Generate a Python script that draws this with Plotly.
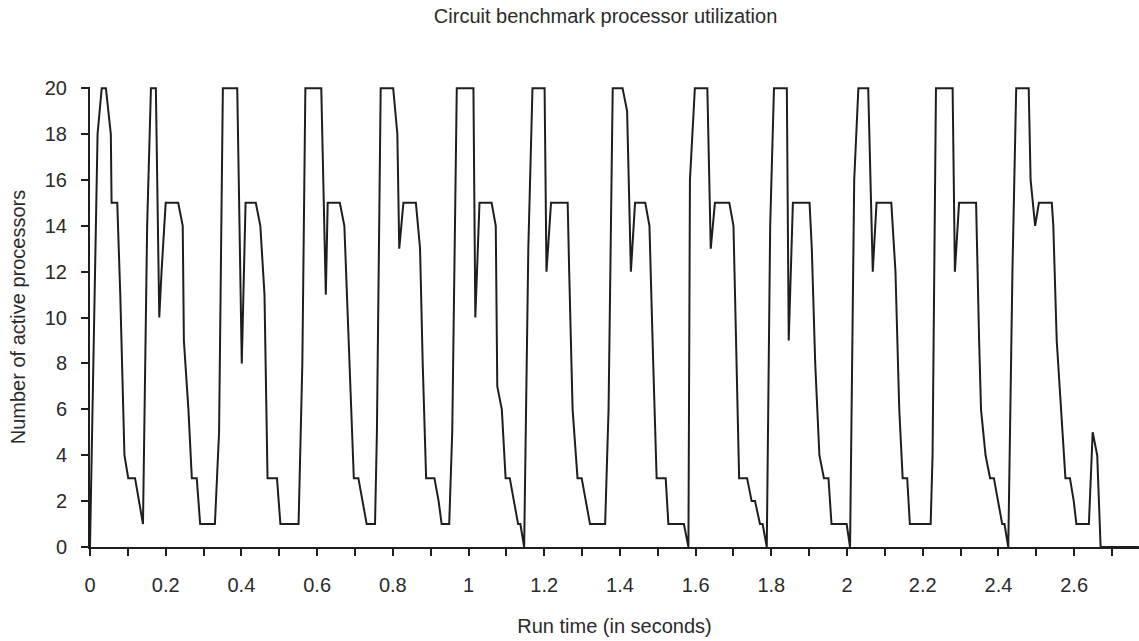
import plotly.graph_objects as go

# Run time (s) and number of active processors
run_time = [0, 0.020, 0.031, 0.042, 0.055, 0.057, 0.072, 0.080, 0.091, 0.101, 0.119, 0.140,
            0.151, 0.161, 0.174, 0.183, 0.189, 0.200, 0.233, 0.245, 0.248, 0.260, 0.269, 0.282,
            0.291, 0.330, 0.341, 0.351, 0.389, 0.401, 0.411, 0.438, 0.450, 0.461, 0.469, 0.494,
            0.503, 0.551, 0.561, 0.569, 0.611, 0.623, 0.628, 0.660, 0.672, 0.683, 0.693, 0.697,
            0.709, 0.720, 0.731, 0.753, 0.758, 0.768, 0.801, 0.812, 0.817, 0.828, 0.861, 0.872,
            0.879, 0.888, 0.910, 0.921, 0.929, 0.949, 0.957, 0.969, 1.013, 1.018, 1.029, 1.061,
            1.072, 1.076, 1.088, 1.098, 1.109, 1.120, 1.131, 1.137, 1.147, 1.158, 1.169, 1.201,
            1.206, 1.218, 1.262, 1.266, 1.275, 1.288, 1.299, 1.321, 1.361, 1.370, 1.381, 1.407,
            1.419, 1.429, 1.440, 1.467, 1.478, 1.488, 1.497, 1.521, 1.528, 1.569, 1.581, 1.585,
            1.598, 1.631, 1.640, 1.651, 1.689, 1.700, 1.710, 1.715, 1.736, 1.748, 1.757, 1.770,
            1.777, 1.788, 1.797, 1.807, 1.841, 1.846, 1.857, 1.901, 1.907, 1.916, 1.927, 1.939,
            1.951, 1.959, 1.999, 2.008, 2.019, 2.030, 2.056, 2.068, 2.078, 2.117, 2.128, 2.138,
            2.147, 2.159, 2.166, 2.221, 2.226, 2.235, 2.279, 2.285, 2.296, 2.341, 2.349, 2.354,
            2.366, 2.378, 2.388, 2.400, 2.410, 2.416, 2.426, 2.437, 2.447, 2.480, 2.485, 2.497,
            2.507, 2.541, 2.545, 2.554, 2.566, 2.577, 2.589, 2.599, 2.606, 2.639, 2.649, 2.661,
            2.670, 2.771]
active = [0, 18, 20, 20, 18, 15, 15, 11, 4, 3, 3, 1,
          14, 20, 20, 10, 12, 15, 15, 14, 9, 6, 3, 3,
          1, 1, 5, 20, 20, 8, 15, 15, 14, 11, 3, 3,
          1, 1, 8, 20, 20, 11, 15, 15, 14, 9, 5, 3,
          3, 2, 1, 1, 5, 20, 20, 18, 13, 15, 15, 13,
          8, 3, 3, 2, 1, 1, 5, 20, 20, 10, 15, 15,
          14, 7, 6, 3, 3, 2, 1, 1, 0, 13, 20, 20,
          12, 15, 15, 12, 6, 3, 3, 1, 1, 6, 20, 20,
          19, 12, 15, 15, 14, 8, 3, 3, 1, 1, 0, 16,
          20, 20, 13, 15, 15, 14, 7, 3, 3, 2, 2, 1,
          1, 0, 14, 20, 20, 9, 15, 15, 13, 8, 4, 3,
          3, 1, 1, 0, 16, 20, 20, 12, 15, 15, 12, 6,
          3, 3, 1, 1, 4, 20, 20, 12, 15, 15, 9, 6,
          4, 3, 3, 2, 1, 1, 0, 12, 20, 20, 16, 14,
          15, 15, 14, 9, 6, 3, 3, 2, 1, 1, 5, 4,
          0, 0]

x_tick_values = [0, 0.1, 0.2, 0.3, 0.4, 0.5, 0.6, 0.7, 0.8, 0.9, 1.0, 1.1, 1.2, 1.3,
                 1.4, 1.5, 1.6, 1.7, 1.8, 1.9, 2.0, 2.1, 2.2, 2.3, 2.4, 2.5, 2.6, 2.7]
x_tick_labels = ["0", "", "0.2", "", "0.4", "", "0.6", "", "0.8", "", "1", "", "1.2", "",
                 "1.4", "", "1.6", "", "1.8", "", "2", "", "2.2", "", "2.4", "", "2.6", ""]
y_tick_values = [0, 2, 4, 6, 8, 10, 12, 14, 16, 18, 20]

title_text = "Circuit benchmark processor utilization"
x_title = "Run time (in seconds)"
y_title = "Number of active processors"

INK = "#1e1e1e"
TXT = "#2a2a2a"
FONT = "Liberation Sans, Arial, sans-serif"
x_range = [0, 2.7714]
y_range = [0, 20.05]

fig = go.Figure()
fig.add_trace(go.Scatter(x=run_time, y=active, mode="lines",
                         line=dict(color=INK, width=2), hoverinfo="skip",
                         showlegend=False))

fig.update_layout(
    width=1139, height=641,
    margin=dict(l=90, r=0, t=87, b=94),
    paper_bgcolor="white", plot_bgcolor="white",
    font=dict(family=FONT, size=20, color=TXT),
    title=dict(text=title_text, font=dict(family=FONT, size=20, color=TXT),
               xref="paper", x=0.4915, xanchor="center",
               yref="container", y=1 - 16 / 641, yanchor="middle"),
    xaxis=dict(range=x_range, tickmode="array", tickvals=x_tick_values,
               ticktext=x_tick_labels, ticks="outside", ticklen=7, tickwidth=2,
               tickcolor=INK, showline=True, linecolor=INK, linewidth=2,
               tickfont=dict(family=FONT, size=20, color=TXT),
               showgrid=False, zeroline=False, ticklabelstandoff=12,
               title=dict(text=x_title, standoff=24,
                          font=dict(family=FONT, size=20, color=TXT))),
    yaxis=dict(range=y_range, tickmode="array", tickvals=y_tick_values,
               ticks="outside", ticklen=7, tickwidth=2, tickcolor=INK,
               showline=True, linecolor=INK, linewidth=2,
               tickfont=dict(family=FONT, size=20, color=TXT),
               showgrid=False, zeroline=False, ticklabelstandoff=10,
               title=dict(text=y_title, standoff=14,
                          font=dict(family=FONT, size=20, color=TXT))),
    xaxis2=dict(range=x_range, overlaying="x", anchor="y", side="bottom",
                tickmode="array", tickvals=x_tick_values, ticks="inside",
                ticklen=7, tickwidth=2, tickcolor=INK, showticklabels=False,
                showline=False, showgrid=False, zeroline=False),
    yaxis2=dict(range=y_range, overlaying="y", anchor="x", side="left",
                tickmode="array", tickvals=y_tick_values, ticks="inside",
                ticklen=7, tickwidth=2, tickcolor=INK, showticklabels=False,
                showline=False, showgrid=False, zeroline=False),
)

fig.write_html("out.html")
